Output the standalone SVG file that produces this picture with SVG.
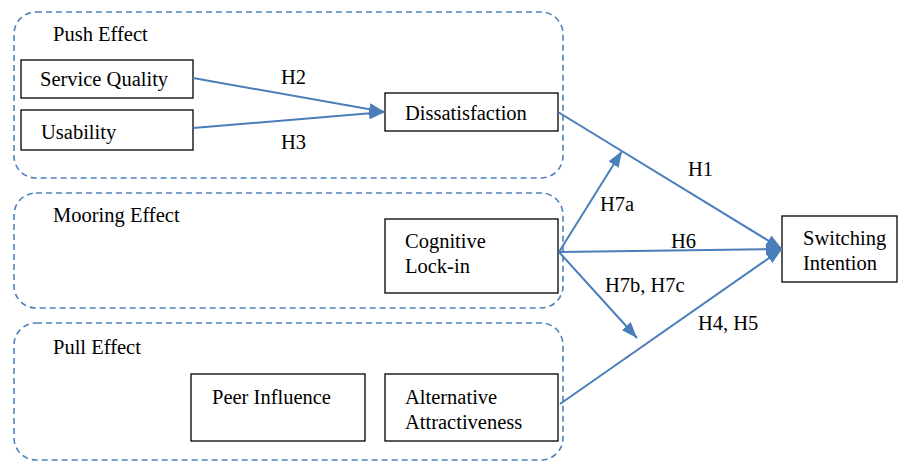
<svg xmlns="http://www.w3.org/2000/svg" width="901" height="463" viewBox="0 0 901 463">
<style>
.grp{fill:none;stroke:#4f81bd;stroke-width:1.6;stroke-dasharray:6 4}
.box{fill:#fff;stroke:#000;stroke-width:1.3}
text{font-family:"Liberation Serif","Times New Roman",serif;font-size:20.5px;fill:#000}
.c{fill:none;stroke:#4a7ebb;stroke-width:2}
</style>
<defs>
<marker id="ah" viewBox="0 0 10 10" refX="10" refY="5" markerWidth="8" markerHeight="7" markerUnits="userSpaceOnUse" orient="auto" style="overflow:visible">
<path d="M0,0 L10,5 L0,10 z" fill="#4a7ebb"/>
</marker>
<marker id="a" viewBox="0 0 16 12" refX="16" refY="6" markerWidth="16" markerHeight="12" markerUnits="userSpaceOnUse" orient="auto">
<path d="M0,0 L16,6 L0,12 z" fill="#4a7ebb"/>
</marker>
</defs>
<g id="push-group"><rect class="grp" x="14" y="12" width="549" height="166" rx="22"/><text x="53" y="41">Push Effect</text></g>
<g id="mooring-group"><rect class="grp" x="14" y="193" width="549" height="115" rx="22"/><text x="53" y="222">Mooring Effect</text></g>
<g id="pull-group"><rect class="grp" x="14" y="323" width="549" height="137" rx="22"/><text x="53" y="354">Pull Effect</text></g>
<g id="service-quality"><rect class="box" x="21" y="60" width="172" height="38"/><text x="40" y="86">Service Quality</text></g>
<g id="usability"><rect class="box" x="21" y="110" width="172" height="40"/><text x="41" y="139">Usability</text></g>
<g id="dissatisfaction"><rect class="box" x="385" y="93" width="173" height="38"/><text x="405" y="120">Dissatisfaction</text></g>
<g id="cognitive-lock-in"><rect class="box" x="385" y="219" width="173" height="74"/><text x="405" y="248">Cognitive</text><text x="405" y="273">Lock-in</text></g>
<g id="peer-influence"><rect class="box" x="191" y="374" width="174" height="67"/><text x="212" y="404">Peer Influence</text></g>
<g id="alternative-attractiveness"><rect class="box" x="385" y="374" width="173" height="67"/><text x="405" y="404">Alternative</text><text x="405" y="429">Attractiveness</text></g>
<g id="switching-intention"><rect class="box" x="782" y="216" width="115" height="66"/><text x="803" y="245">Switching</text><text x="803" y="270">Intention</text></g>
<g id="connectors">
<line class="c" x1="193" y1="78" x2="385" y2="112" marker-end="url(#a)"/>
<line class="c" x1="193" y1="128" x2="385" y2="112" marker-end="url(#a)"/>
<line class="c" x1="558" y1="112" x2="782" y2="249" marker-end="url(#a)"/>
<line class="c" x1="559" y1="252" x2="782" y2="249" marker-end="url(#a)"/>
<line class="c" x1="560" y1="404" x2="782" y2="249" marker-end="url(#a)"/>
<line class="c" x1="559" y1="252" x2="622" y2="151" marker-end="url(#a)"/>
<line class="c" x1="559" y1="252" x2="637" y2="338" marker-end="url(#a)"/>
<text x="281" y="84">H2</text>
<text x="281" y="149">H3</text>
<text x="688" y="176">H1</text>
<text x="600" y="211">H7a</text>
<text x="671" y="248">H6</text>
<text x="605" y="292">H7b, H7c</text>
<text x="698" y="330">H4, H5</text>
</g>
</svg>
